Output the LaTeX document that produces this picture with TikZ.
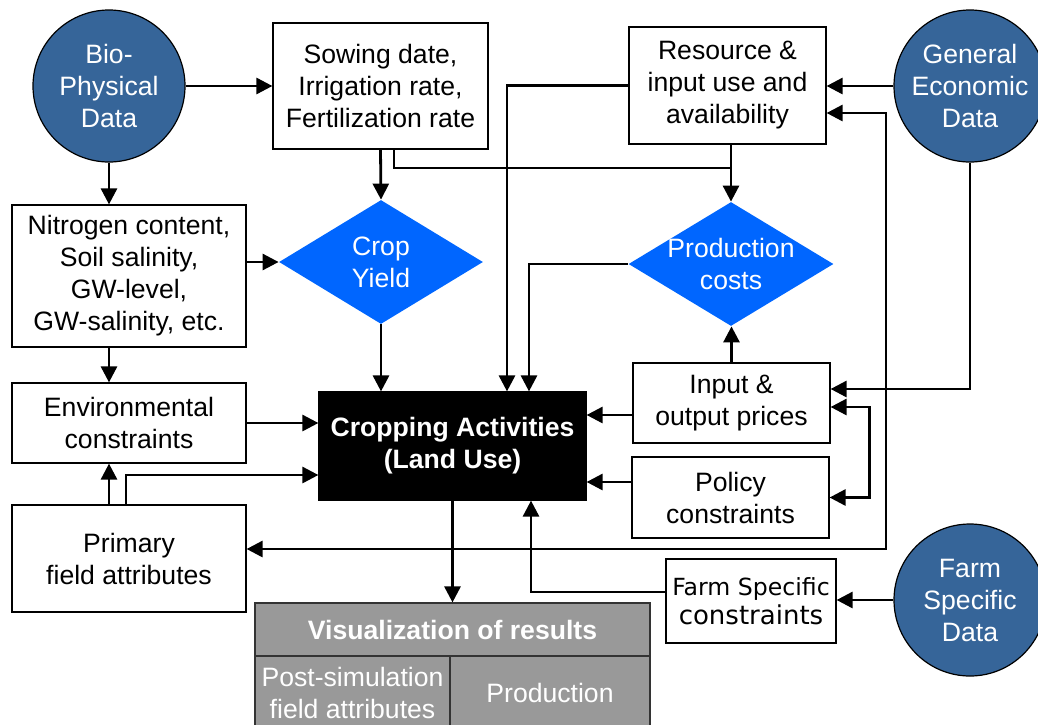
\documentclass[tikz,border=0pt]{standalone}
\usepackage{fontspec}
\setmainfont{Liberation Sans}
\newfontfamily\farmfont{DejaVu Sans}
\usepackage{tikz}
\usetikzlibrary{shapes.geometric,arrows.meta}
\definecolor{datablue}{RGB}{54,101,153}
\definecolor{calcblue}{RGB}{0,102,255}
\definecolor{visgray}{RGB}{153,153,153}
\tikzset{
	datacirc/.style={circle,draw,line width=0.6pt,fill=datablue,text=white,minimum size=76pt,inner sep=0pt,align=center},
	infobox/.style 2 args={rectangle,draw,line width=0.6pt,fill=white,minimum width=#1,minimum height=#2,inner sep=0pt,align=center},
	calcdiam/.style 2 args={diamond,fill=calcblue,minimum width=#1,minimum height=#2,inner sep=0pt},
	diamtext/.style={text=white,align=center},
	viscell/.style 2 args={rectangle,draw=black!80,line width=0.6pt,fill=visgray,text=white,minimum width=#1,minimum height=#2,inner sep=0pt,align=center},
	flow/.style={-{Triangle[length=8pt,width=8pt]},line width=1.4pt},
	twoway/.style={{Triangle[length=8pt,width=8pt]}-{Triangle[length=8pt,width=8pt]},line width=1.4pt},
	thinflow/.style={line width=0.8pt}
}

\begin{document}
\begin{tikzpicture}[x=0.5pt,y=-0.5pt,font=\fontsize{13.3}{16}\selectfont]
	\useasboundingbox (0,0) rectangle (1038,724);

	\node [datacirc] (bio) at (109,86) {Bio-\\Physical\\Data};
	\node [datacirc] (gen) at (970,86) {General\\Economic\\Data};
	\node [datacirc] (farm) at (970,600) {Farm\\Specific\\Data};

	\node [infobox={107.5pt}{63pt}] (sow) at (380.5,86) {Sowing date,\\Irrigation rate,\\Fertilization rate};
	\node [infobox={98.5pt}{58.5pt}] (res) at (727.5,85.5) {Resource \&\\input use and\\availability};
	\node [infobox={117pt}{71pt}] (nit) at (129,276) {Nitrogen content,\\Soil salinity,\\GW-level,\\GW-salinity, etc.};
	\node [infobox={117pt}{40pt}] (env) at (129,423) {Environmental\\constraints};
	\node [infobox={117pt}{53.5pt}] (prim) at (129,558.5) {Primary\\field attributes};
	\node [infobox={98.5pt}{40pt}] (inp) at (731.5,403) {Input \&\\output prices};
	\node [infobox={98.5pt}{40.5pt}] (pol) at (730.5,497.5) {Policy\\constraints};
	\node [infobox={85pt}{42pt},font=\farmfont] (farmc) at (751,601) {{\fontsize{11.8}{14}\selectfont Farm Specific}\\[1pt]{\fontsize{13}{16}\selectfont constraints}};
	\node [infobox={133.5pt}{54pt},fill=black,text=white,font=\fontsize{13.3}{16}\selectfont\bfseries] (crop) at (452.5,446) {Cropping Activities\\(Land Use)};

	\node [calcdiam={102pt}{62pt},label={[diamtext]center:{Crop\\Yield}}] (yield) at (381,262) {};
	\node [calcdiam={102.5pt}{62pt},label={[diamtext]center:{Production\\costs}}] (cost) at (731,264) {};

	\node [viscell={197.5pt}{26.5pt},font=\fontsize{13.3}{16}\selectfont\bfseries] (vis) at (452.5,629.5) {Visualization of results};
	\node [viscell={97.5pt}{37pt}] (post) at (352.5,693) {Post-simulation\\field attributes};
	\node [viscell={100pt}{37pt}] (prod) at (550,693) {Production};

	\coordinate (join) at (730,168);
	\coordinate (loopR) at (886,549);

	\draw [flow] (bio) -- (sow);
	\draw [flow] (bio.south) -- (bio.south |- nit.north);
	\draw [flow] (sow.south) -- (yield.north);
	\draw [thinflow] ([xshift=6.75pt]sow.south) |- (join);
	\draw [flow] (cost.north |- res.south) -- (cost.north);
	\draw [flow] (gen.west) -- (gen.west -| res.east);
	\draw [twoway] ([yshift=4.75pt]prim.east) -- (loopR) |- ([yshift=-13.75pt]res.east);
	\draw [flow] (gen.south) |- ([yshift=7pt]inp.east);
	\draw [twoway] ([yshift=-2pt]inp.east) -- ++(39,0) |- (pol.east);
	\draw [flow] (inp.north) -- (inp.north |- cost.south);
	\draw [flow] ([yshift=-6pt]inp.west) -- ([yshift=-6pt]inp.west -| crop.east);
	\draw [flow] ([yshift=7.75pt]pol.west) -- ([yshift=7.75pt]pol.west -| crop.east);
	\draw [flow] (cost.west) -| ([xshift=38.25pt]crop.north);
	\draw [flow] (res.west) -| ([xshift=27.25pt]crop.north);
	\draw [flow] (yield.south) -- (yield.south |- crop.north);
	\draw [flow] ([xshift=-10pt]nit.south) -- ([xshift=-10pt]env.north);
	\draw [flow] (nit.east |- yield.west) -- (yield.west);
	\draw [flow] (env.east) -- (env.east -| crop.west);
	\draw [flow] ([xshift=-10pt]prim.north) -- ([xshift=-10pt]env.south);
	\draw [flow] ([xshift=-1.5pt]prim.north) |- ([yshift=-14.5pt]crop.west);
	\draw [flow] (crop.south) -- (vis.north);
	\draw [flow] ([yshift=4.5pt]farmc.west) -| ([xshift=39.25pt]crop.south);
	\draw [flow] (farm.west) -- (farm.west -| farmc.east);
\end{tikzpicture}
\end{document}
